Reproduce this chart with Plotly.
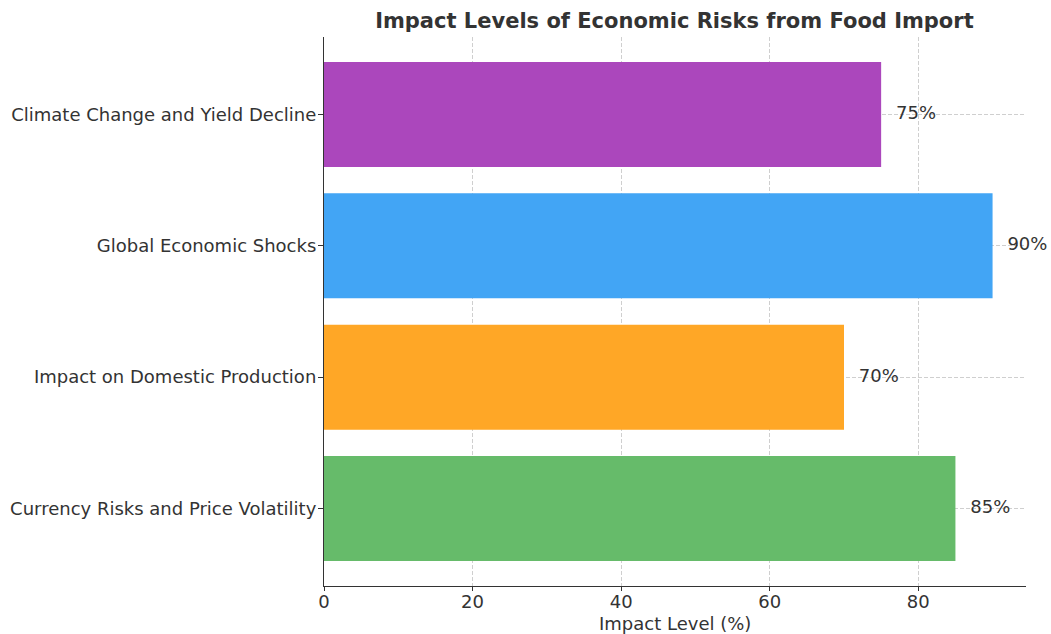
import plotly.graph_objects as go

categories = ["Currency Risks and Price Volatility", "Impact on Domestic Production",
              "Global Economic Shocks", "Climate Change and Yield Decline"]
values = [85, 70, 90, 75]
colors = ["#66BB6A", "#FFA726", "#42A5F5", "#AB47BC"]
labels = [f"{v}%" for v in values]

font_family = "DejaVu Sans"
txt = "#333333"
fs = 18

fig = go.Figure()
fig.add_trace(go.Bar(
    y=categories, x=values, orientation="h", width=0.8,
    marker=dict(color=colors, line=dict(width=0)),
    hoverinfo="skip", showlegend=False,
))
fig.add_trace(go.Scatter(
    y=categories, x=[v + 2 for v in values], mode="text", text=labels,
    textposition="middle right", textfont=dict(family=font_family, size=fs, color=txt),
    hoverinfo="skip", showlegend=False, cliponaxis=False,
))
fig.update_layout(
    width=1051, height=634,
    margin=dict(l=324, r=25, t=37, b=48, autoexpand=False),
    plot_bgcolor="white", paper_bgcolor="white",
    font=dict(family=font_family, color=txt, size=fs),
    title=dict(text="<b>Impact Levels of Economic Risks from Food Import</b>",
               x=0.6417, xanchor="center", y=0.968, yanchor="middle",
               font=dict(size=21, color=txt, family=font_family)),
    bargap=0.2,
    annotations=[dict(text="Impact Level (%)", xref="paper", yref="paper",
                      x=0.5, y=-0.0674, xanchor="center", yanchor="middle",
                      showarrow=False, font=dict(size=fs, color=txt, family=font_family))],
)
fig.update_xaxes(
    range=[0, 94.5], tickvals=[0, 20, 40, 60, 80], ticks="outside", ticklen=4,
    tickcolor="#333333", showline=True, linecolor="#333333", linewidth=1.2,
    showgrid=True, gridcolor="#cfcfcf", griddash="4px,2px", gridwidth=1,
    zeroline=False, layer="above traces", automargin=False,
    ticklabelstandoff=-5,
    tickfont=dict(size=fs, color=txt),
)
fig.update_yaxes(
    range=[-0.59, 3.59], ticks="outside", ticklen=5, tickcolor="#333333",
    showline=True, linecolor="#333333", linewidth=1.2,
    showgrid=True, gridcolor="#cfcfcf", griddash="4px,2px", gridwidth=1,
    zeroline=False, layer="above traces", automargin=False,
    ticklabelstandoff=-2,
    tickfont=dict(size=fs, color=txt),
)
fig.write_html("out.html")
